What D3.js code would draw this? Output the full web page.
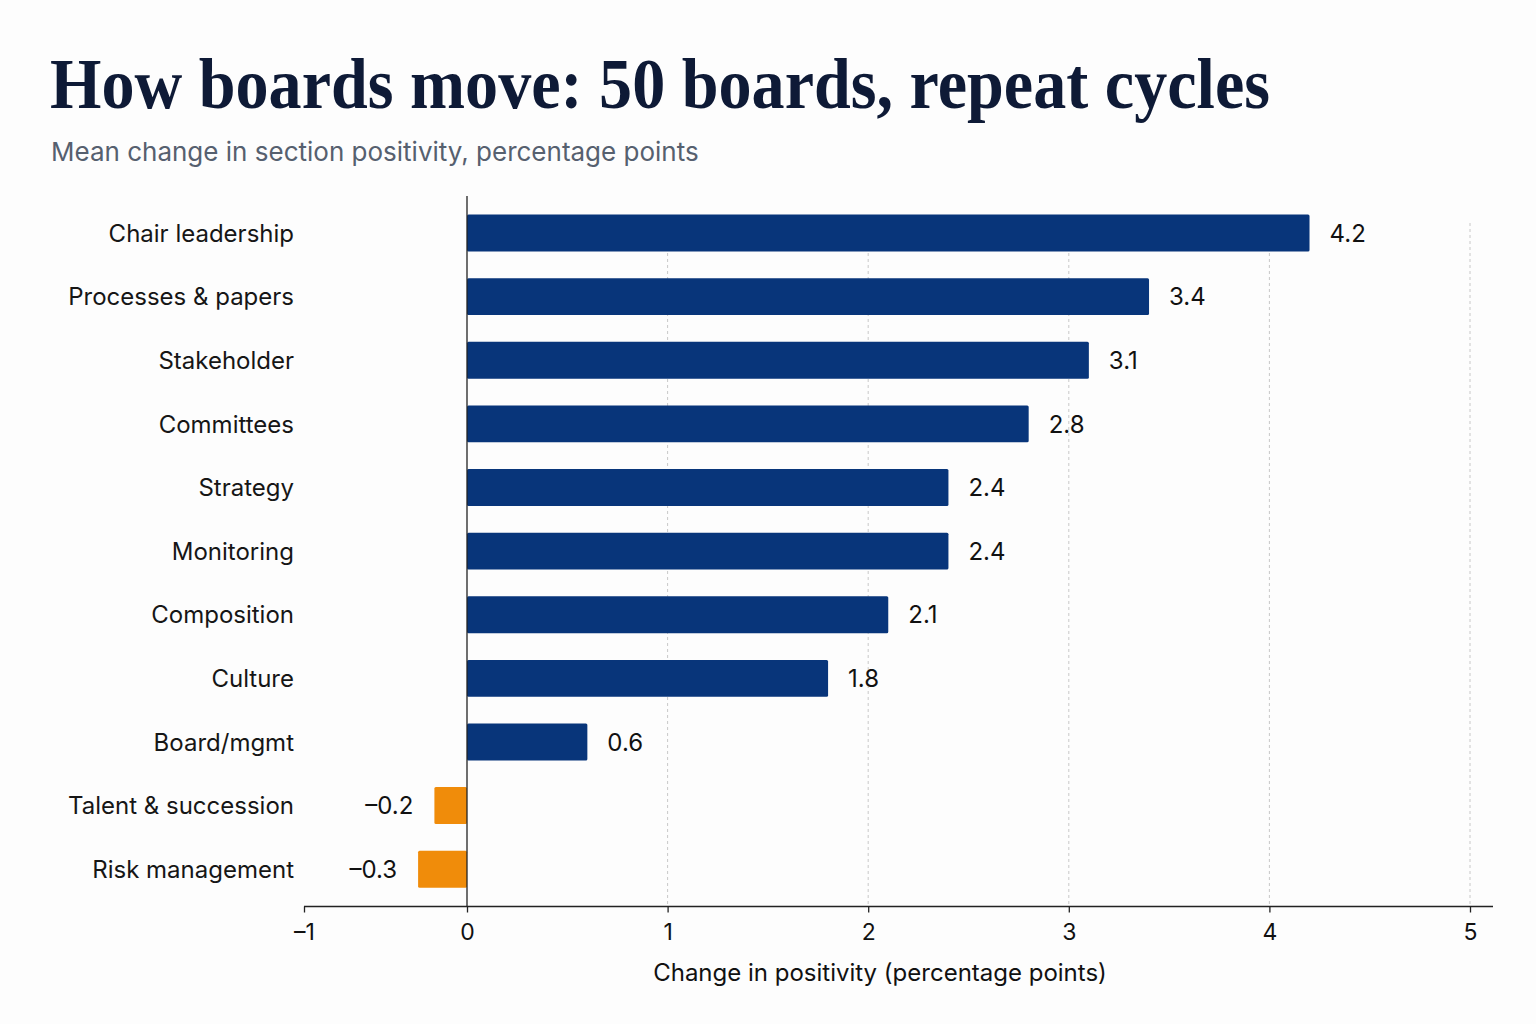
<!DOCTYPE html>
<html><head><meta charset="utf-8">
<script src="https://cdn.jsdelivr.net/npm/d3@7/dist/d3.min.js"></script>
<style>
html,body{margin:0;padding:0;background:#fdfdfd;}
svg{display:block;}
</style></head>
<body>
<svg id="chart" width="1536" height="1024"></svg>
<script>
const categories = ["Chair leadership","Processes & papers","Stakeholder","Committees","Strategy","Monitoring","Composition","Culture","Board/mgmt","Talent & succession","Risk management"];
const values = [4.2,3.4,3.1,2.8,2.4,2.4,2.1,1.8,0.6,-0.2,-0.3];
const tickValues = [-1,0,1,2,3,4,5];
const titleText = "How boards move: 50 boards, repeat cycles";
const subtitleText = "Mean change in section positivity, percentage points";
const xTitle = "Change in positivity (percentage points)";

const fmt = v => (v < 0 ? "\u2013" + Math.abs(v).toFixed(1) : v.toFixed(1));
const fmtTick = v => (v < 0 ? "\u2013" + Math.abs(v) : String(v));

const svg = d3.select("#chart");
const sans = "Inter, Lato, sans-serif";

svg.append("rect").attr("width",1536).attr("height",1024).attr("fill","#fdfdfd");

svg.append("text").attr("x",50).attr("y",108)
  .attr("font-family","'Liberation Serif','DejaVu Serif',serif").attr("font-weight",700)
  .attr("font-size",72).attr("fill","#0e1a36")
  .attr("textLength",1220).attr("lengthAdjust","spacingAndGlyphs")
  .text(titleText);

svg.append("text").attr("x",51).attr("y",161)
  .attr("font-family",sans).attr("font-size",26).attr("fill","#56606f")
  .text(subtitleText);

const x = d3.scaleLinear().domain([-1,0,5]).range([304,467,1470]);
const y = d3.scaleBand().domain(categories).range([201.2,901]).paddingInner(0.42).paddingOuter(0.21);

const rows = categories.map((c,i)=>({c, v: values[i]}));

// gridlines
svg.append("g").selectAll("line").data(tickValues.filter(t=>t>0)).join("line")
  .attr("x1",d=>x(d)).attr("x2",d=>x(d)).attr("y1",223).attr("y2",906)
  .attr("stroke","#c8c8c8").attr("stroke-width",1).attr("stroke-dasharray","3,3");

// bars
svg.append("g").selectAll("rect").data(rows).join("rect")
  .attr("x",d=>x(Math.min(0,d.v))).attr("width",d=>Math.abs(x(d.v)-x(0)))
  .attr("y",d=>y(d.c)).attr("height",y.bandwidth()).attr("rx",1.5)
  .attr("fill",d=>d.v<0?"#f08c0a":"#08357a");

// value labels
svg.append("g").selectAll("text").data(rows).join("text")
  .attr("x",d=>d.v<0? x(d.v)-21 : x(d.v)+20)
  .attr("y",d=>y(d.c)+y.bandwidth()/2).attr("dy","0.36em")
  .attr("text-anchor",d=>d.v<0?"end":"start")
  .attr("font-family",sans).attr("font-size",24).attr("fill","#111")
  .text(d=>fmt(d.v));

// category labels
svg.append("g").selectAll("text").data(rows).join("text")
  .attr("x",294).attr("y",d=>y(d.c)+y.bandwidth()/2).attr("dy","0.36em")
  .attr("text-anchor","end")
  .attr("font-family",sans).attr("font-size",24).attr("fill","#161616")
  .text(d=>d.c);

// zero line
svg.append("line").attr("x1",x(0)).attr("x2",x(0)).attr("y1",196).attr("y2",906)
  .attr("stroke","#222").attr("stroke-width",1.3);

// x axis
const xAxis = d3.axisBottom(x).tickValues(tickValues).tickFormat(fmtTick).tickSize(6).tickSizeOuter(0);
const gx = svg.append("g").attr("transform","translate(0,906.5)").call(xAxis);
gx.select(".domain").attr("d","M304,0H1493").attr("stroke","#222").attr("stroke-width",1.3);
gx.selectAll(".tick line").attr("stroke","#222").attr("stroke-width",1.3);
gx.selectAll(".tick text").attr("font-family",sans).attr("font-size",23).attr("fill","#111").attr("dy","1.05em");

svg.append("text").attr("x",880).attr("y",981).attr("text-anchor","middle")
  .attr("font-family",sans).attr("font-size",24).attr("fill","#111")
  .text(xTitle);
</script>
</body></html>
